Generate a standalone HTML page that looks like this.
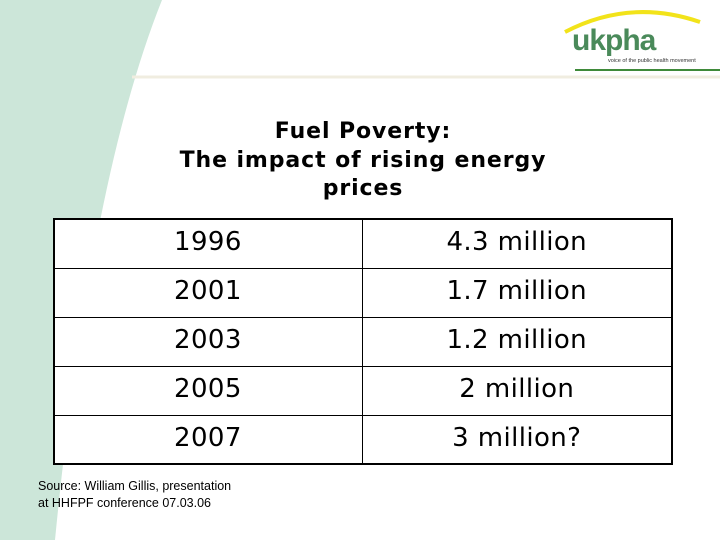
<!DOCTYPE html>
<html><head><meta charset="utf-8"><style>
body{margin:0;width:720px;height:540px;overflow:hidden;background:#fff;position:relative;font-family:"Liberation Sans",sans-serif}
#bg{position:absolute;left:0;top:0}
.title{position:absolute;left:113px;width:500px;top:118px;text-align:center;font-family:"DejaVu Sans",sans-serif;font-weight:bold;font-size:22px;letter-spacing:0.9px;line-height:28.5px;color:#000}
table{position:absolute;left:53px;top:218px;width:620px;border-collapse:collapse;border:2px solid #000;background:#fff}
td{border:1px solid #000;height:49px;padding:0 0 3px 0;box-sizing:border-box;font-family:"DejaVu Sans",sans-serif;font-size:26px;letter-spacing:0.4px;color:#000}
td.y{width:308px;padding-left:119px;text-align:left}
td.v{text-align:center}
.src{position:absolute;left:38px;top:478px;font-size:12.5px;line-height:17px;color:#000}
.logo{position:absolute;left:572px;top:24px;font-family:"Liberation Sans",sans-serif;font-weight:bold;font-size:30px;color:#4a8a5a;letter-spacing:-1px}
.tag{position:absolute;left:608px;top:58px;font-size:5.5px;color:#333}
</style></head><body>
<svg id="bg" width="720" height="540">
<path d="M0,0 L162,0 Q90,180 55,540 L0,540 Z" fill="#cce6d9"/>
<line x1="132" y1="77" x2="720" y2="77" stroke="#f0ede0" stroke-width="3"/>
<line x1="575" y1="70" x2="720" y2="70" stroke="#3f8a3a" stroke-width="2"/>
<path d="M565,32 Q630,-2 700,22" fill="none" stroke="#f2e31a" stroke-width="4"/>
</svg>
<div class="logo">ukpha</div>
<div class="tag">voice of the public health movement</div>
<div class="title">Fuel Poverty:<br>The impact of rising energy<br>prices</div>
<table>
<tr><td class="y">1996</td><td class="v">4.3 million</td></tr>
<tr><td class="y">2001</td><td class="v">1.7 million</td></tr>
<tr><td class="y">2003</td><td class="v">1.2 million</td></tr>
<tr><td class="y">2005</td><td class="v">2 million</td></tr>
<tr><td class="y">2007</td><td class="v">3 million?</td></tr>
</table>
<div class="src">Source: William Gillis, presentation<br>at HHFPF conference 07.03.06</div>
</body></html>
